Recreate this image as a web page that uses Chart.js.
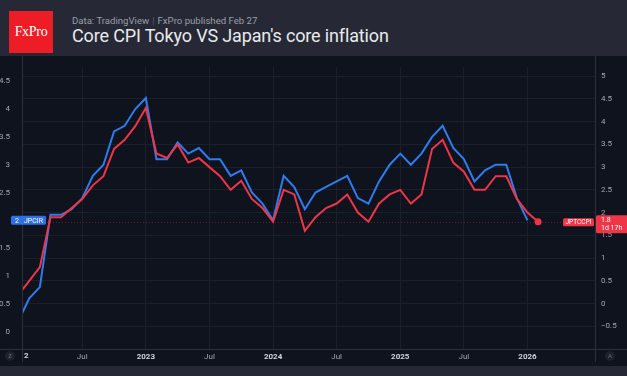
<!DOCTYPE html>
<html><head><meta charset="utf-8">
<script src="https://cdn.jsdelivr.net/npm/chart.js@4.4.1/dist/chart.umd.min.js"></script>
<style>
html,body{margin:0;padding:0;background:#262935;width:627px;height:376px;overflow:hidden;font-family:Roboto,"Noto Sans",sans-serif}
#logo{position:absolute;left:9px;top:11px;width:44px;height:42px;background:#ee1c25;color:#fff;font-family:"Liberation Serif","DejaVu Serif",serif;font-size:14px;line-height:42px;text-align:center;letter-spacing:-0.3px}
#sub{position:absolute;left:72px;top:15px;font-size:9.6px;color:#9a9ea8;white-space:nowrap}
#sub span{color:#5a5f6b;margin:0 3px}
#title{position:absolute;left:72px;top:25px;font-size:18px;letter-spacing:-0.15px;color:#e8eaee;white-space:nowrap}
#panel{position:absolute;left:0;top:56px;width:627px;height:310px;background:#0e131d}
canvas{display:block}
</style></head>
<body>
<div id="logo">FxPro</div>
<div id="sub">Data: TradingView<span>|</span>FxPro published Feb 27</div>
<div id="title">Core CPI Tokyo VS Japan's core inflation</div>
<div id="panel"><canvas id="c" width="627" height="310"></canvas></div>
<script>
// ---- data (monthly, YoY %) ----
const months = ['2022-01','2022-02','2022-03','2022-04','2022-05','2022-06','2022-07','2022-08','2022-09','2022-10','2022-11','2022-12',
  '2023-01','2023-02','2023-03','2023-04','2023-05','2023-06','2023-07','2023-08','2023-09','2023-10','2023-11','2023-12',
  '2024-01','2024-02','2024-03','2024-04','2024-05','2024-06','2024-07','2024-08','2024-09','2024-10','2024-11','2024-12',
  '2025-01','2025-02','2025-03','2025-04','2025-05','2025-06','2025-07','2025-08','2025-09','2025-10','2025-11','2025-12',
  '2026-01','2026-02'];
// Japan core inflation rate (JPCIR) - left axis
const jpcir = [0.2,0.6,0.8,2.1,2.1,2.2,2.4,2.8,3.0,3.6,3.7,4.0,
  4.2,3.1,3.1,3.4,3.2,3.3,3.1,3.1,2.8,2.9,2.5,2.3,
  2.0,2.8,2.6,2.2,2.5,2.6,2.7,2.8,2.4,2.3,2.7,3.0,
  3.2,3.0,3.2,3.5,3.7,3.3,3.1,2.7,2.9,3.0,3.0,2.4,
  2.0];
// Tokyo core CPI (JPTCCPI) - right axis
const jptccpi = [0.2,0.5,0.8,1.9,1.9,2.1,2.3,2.6,2.8,3.4,3.6,3.9,
  4.3,3.3,3.2,3.5,3.1,3.2,3.0,2.8,2.5,2.7,2.3,2.1,
  1.8,2.5,2.4,1.6,1.9,2.1,2.2,2.4,2.0,1.8,2.2,2.4,
  2.5,2.2,2.4,3.4,3.6,3.1,2.9,2.5,2.5,2.8,2.8,2.3,
  2.0,1.8];
const xTickMonths = ['2022-07','2023-01','2023-07','2024-01','2024-07','2025-01','2025-07','2026-01'];
const xTickLabels = ['Jul','2023','Jul','2024','Jul','2025','Jul','2026'];
const leftTicks = [0,0.5,1,1.5,2,2.5,3,3.5,4,4.5];
const rightTicks = [-0.5,0,0.5,1,1.5,2,2.5,3,3.5,4,4.5,5];

const BLUE = '#2f7cf0', RED = '#ef3548';
const idx = m => months.indexOf(m);
const bluePts = jpcir.map((v,i)=>({x:i,y:v}));
const redPts = jptccpi.map((v,i)=>({x:i,y:v}));
const tickIdx = xTickMonths.map(idx);
const labelOf = {}; tickIdx.forEach((v,i)=>labelOf[v]=xTickLabels[i]);

const FONT = 'Roboto, "Noto Sans", sans-serif';
const GRID = '#1a1f2a', AXIS = '#2c303b', TXT = '#a3a6af';

function rr(ctx,x,y,w,h,r){ctx.beginPath();ctx.moveTo(x+r,y);ctx.lineTo(x+w-r,y);ctx.quadraticCurveTo(x+w,y,x+w,y+r);ctx.lineTo(x+w,y+h-r);ctx.quadraticCurveTo(x+w,y+h,x+w-r,y+h);ctx.lineTo(x+r,y+h);ctx.quadraticCurveTo(x,y+h,x,y+h-r);ctx.lineTo(x,y+r);ctx.quadraticCurveTo(x,y,x+r,y);ctx.closePath();}

const deco = {
  id:'deco',
  beforeDatasetsDraw(chart){
    const c = chart.ctx, a = chart.chartArea;
    const yR = chart.scales.yR;
    const py = Math.round(yR.getPixelForValue(jptccpi[jptccpi.length-1]))+0.5;
    c.save(); c.strokeStyle='rgba(239,53,72,0.35)'; c.lineWidth=1; c.setLineDash([1,2]);
    c.beginPath(); c.moveTo(a.left,py); c.lineTo(563,py); c.stroke(); c.restore();
  },
  afterDraw(chart){
    const c = chart.ctx, a = chart.chartArea;
    const yL = chart.scales.yL, yR = chart.scales.yR;
    c.save();
    // axis frame lines
    c.strokeStyle = AXIS; c.lineWidth = 1;
    c.beginPath();
    c.moveTo(a.left-0.5,0); c.lineTo(a.left-0.5,306);
    c.moveTo(a.right+0.5,0); c.lineTo(a.right+0.5,306);
    c.moveTo(0,a.bottom+0.5); c.lineTo(627,a.bottom+0.5);
    c.stroke();
    // truncated first year label
    c.fillStyle = '#d1d4dc'; c.font = 'bold 8px '+FONT; c.textBaseline='middle'; c.textAlign='left';
    c.fillText('2', a.left+1, a.bottom+7);
    // Z and A buttons
    [[10,'Z'],[610,'A']].forEach(([cx,t])=>{
      c.fillStyle='#1c212b'; c.beginPath(); c.arc(cx,a.bottom+7,5,0,Math.PI*2); c.fill();
      c.fillStyle='#6b707b'; c.font='6px '+FONT; c.textAlign='center'; c.fillText(t,cx,a.bottom+7.5);
    });
    // blue badge (left)
    const by = yL.getPixelForValue(jpcir[jpcir.length-1]);
    c.fillStyle = '#2f6fe4'; rr(c,11,by-4.5,35,9,1.5); c.fill();
    c.fillStyle = '#ffffff'; c.font = '7px '+FONT; c.textAlign='left'; c.textBaseline='middle';
    c.fillText('2',15,by+0.5); c.fillText('JPCIR',24,by+0.5);
    // red badges (right)
    const ry = yR.getPixelForValue(jptccpi[jptccpi.length-1]);
    c.fillStyle = RED; rr(c,563,ry-3.5,31,8,1.5); c.fill();
    rr(c,a.right+1,ry-6.5,32,18,1.5); c.fill();
    c.fillStyle='#ffffff'; c.font='6.5px '+FONT; c.textAlign='left';
    c.fillText('JPTCCPI',565.5,ry+0.5);
    c.font='7px '+FONT;
    c.fillText('1.8',601,ry-1.5);
    c.fillText('1d 17h',601,ry+7);
    c.restore();
  }
};

new Chart(document.getElementById('c'), {
  type:'line',
  data:{datasets:[
    {label:'JPTCCPI', data:redPts, yAxisID:'yR', borderColor:RED, borderWidth:2, tension:0,
     pointRadius: redPts.map((p,i)=> i===redPts.length-1 ? 3.5 : 0), pointBackgroundColor:RED, pointBorderWidth:0},
    {label:'JPCIR', data:bluePts, yAxisID:'yL', borderColor:BLUE, borderWidth:2, tension:0, pointRadius:0}
  ]},
  options:{
    responsive:false, animation:false, events:[],
    layout:{padding:{top:1,left:0,right:0,bottom:0}},
    plugins:{legend:{display:false},tooltip:{enabled:false}},
    scales:{
      x:{type:'linear', min:0.41, max:54.37,
         afterBuildTicks:s=>{s.ticks = tickIdx.map(v=>({value:v}));},
         afterFit:s=>{s.height=17;},
         grid:{color:GRID, drawTicks:false}, border:{display:false},
         ticks:{autoSkip:false, maxRotation:0, padding:3,
           callback:v=>labelOf[v]||'',
           color:ctx=> (ctx.tick && ctx.tick.value%12===0) ? '#d1d4dc' : '#a3a6af',
           font:ctx=>({family:FONT, size:8, weight:(ctx.tick && ctx.tick.value%12===0)?'bold':'normal'})}},
      yL:{position:'left', min:-0.3127, max:4.760,
         afterBuildTicks:s=>{s.ticks = leftTicks.map(v=>({value:v}));},
         afterFit:s=>{s.width=23;},
         grid:{display:false}, border:{display:false},
         ticks:{padding:5, color:TXT, font:{family:FONT,size:8}, callback:v=> v===2 ? '' : String(v)}},
      yR:{position:'right', min:-0.9987, max:5.206,
         afterBuildTicks:s=>{s.ticks = rightTicks.map(v=>({value:v}));},
         afterFit:s=>{s.width=32;},
         grid:{color:GRID, drawTicks:false}, border:{display:false},
         ticks:{padding:6, color:TXT, font:{family:FONT,size:8}, callback:v=> v<0 ? '\u2212'+Math.abs(v) : String(v)}}
    }
  },
  plugins:[deco]
});
</script>
</body></html>
